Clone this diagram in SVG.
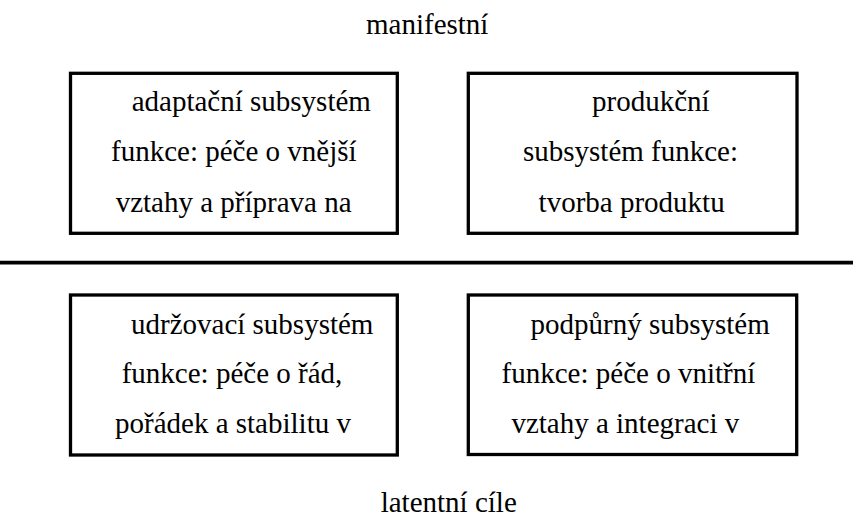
<svg xmlns="http://www.w3.org/2000/svg" width="853" height="524" viewBox="0 0 853 524">
<style>
  .box { fill: #ffffff; stroke: #000000; stroke-width: 3.3; }
</style>
<rect width="853" height="524" fill="#ffffff"/>
<g font-family="Liberation Serif, serif" font-size="29" fill="#000000">
<text x="366" y="34">manifestní</text>
<g id="connectors">
  <line x1="0" y1="262.7" x2="853" y2="262.7" stroke="#000000" stroke-width="3.7"/>
</g>
<g id="adaptacni">
  <rect class="box" x="70.5" y="73.3" width="326.8" height="160"/>
  <text x="131.7" y="111">adaptační subsystém</text>
  <text x="111" y="161">funkce: péče o vnější</text>
  <text x="115.7" y="212">vztahy a příprava na</text>
</g>
<g id="produkcni">
  <rect class="box" x="468.3" y="73.3" width="328.7" height="160"/>
  <text x="592" y="111">produkční</text>
  <text x="523" y="161">subsystém funkce:</text>
  <text x="538.6" y="212">tvorba produktu</text>
</g>
<g id="udrzovaci">
  <rect class="box" x="70.5" y="295" width="326.8" height="160"/>
  <text x="131" y="334">udržovací subsystém</text>
  <text x="121.7" y="383">funkce: péče o řád,</text>
  <text x="115" y="433">pořádek a stabilitu v</text>
</g>
<g id="podpurny">
  <rect class="box" x="468.3" y="295" width="328.4" height="159.5"/>
  <text x="530.5" y="334">podpůrný subsystém</text>
  <text x="501.6" y="383">funkce: péče o vnitřní</text>
  <text x="511.4" y="433">vztahy a integraci v</text>
</g>
<text x="380.7" y="512">latentní cíle</text>
</g>
</svg>
